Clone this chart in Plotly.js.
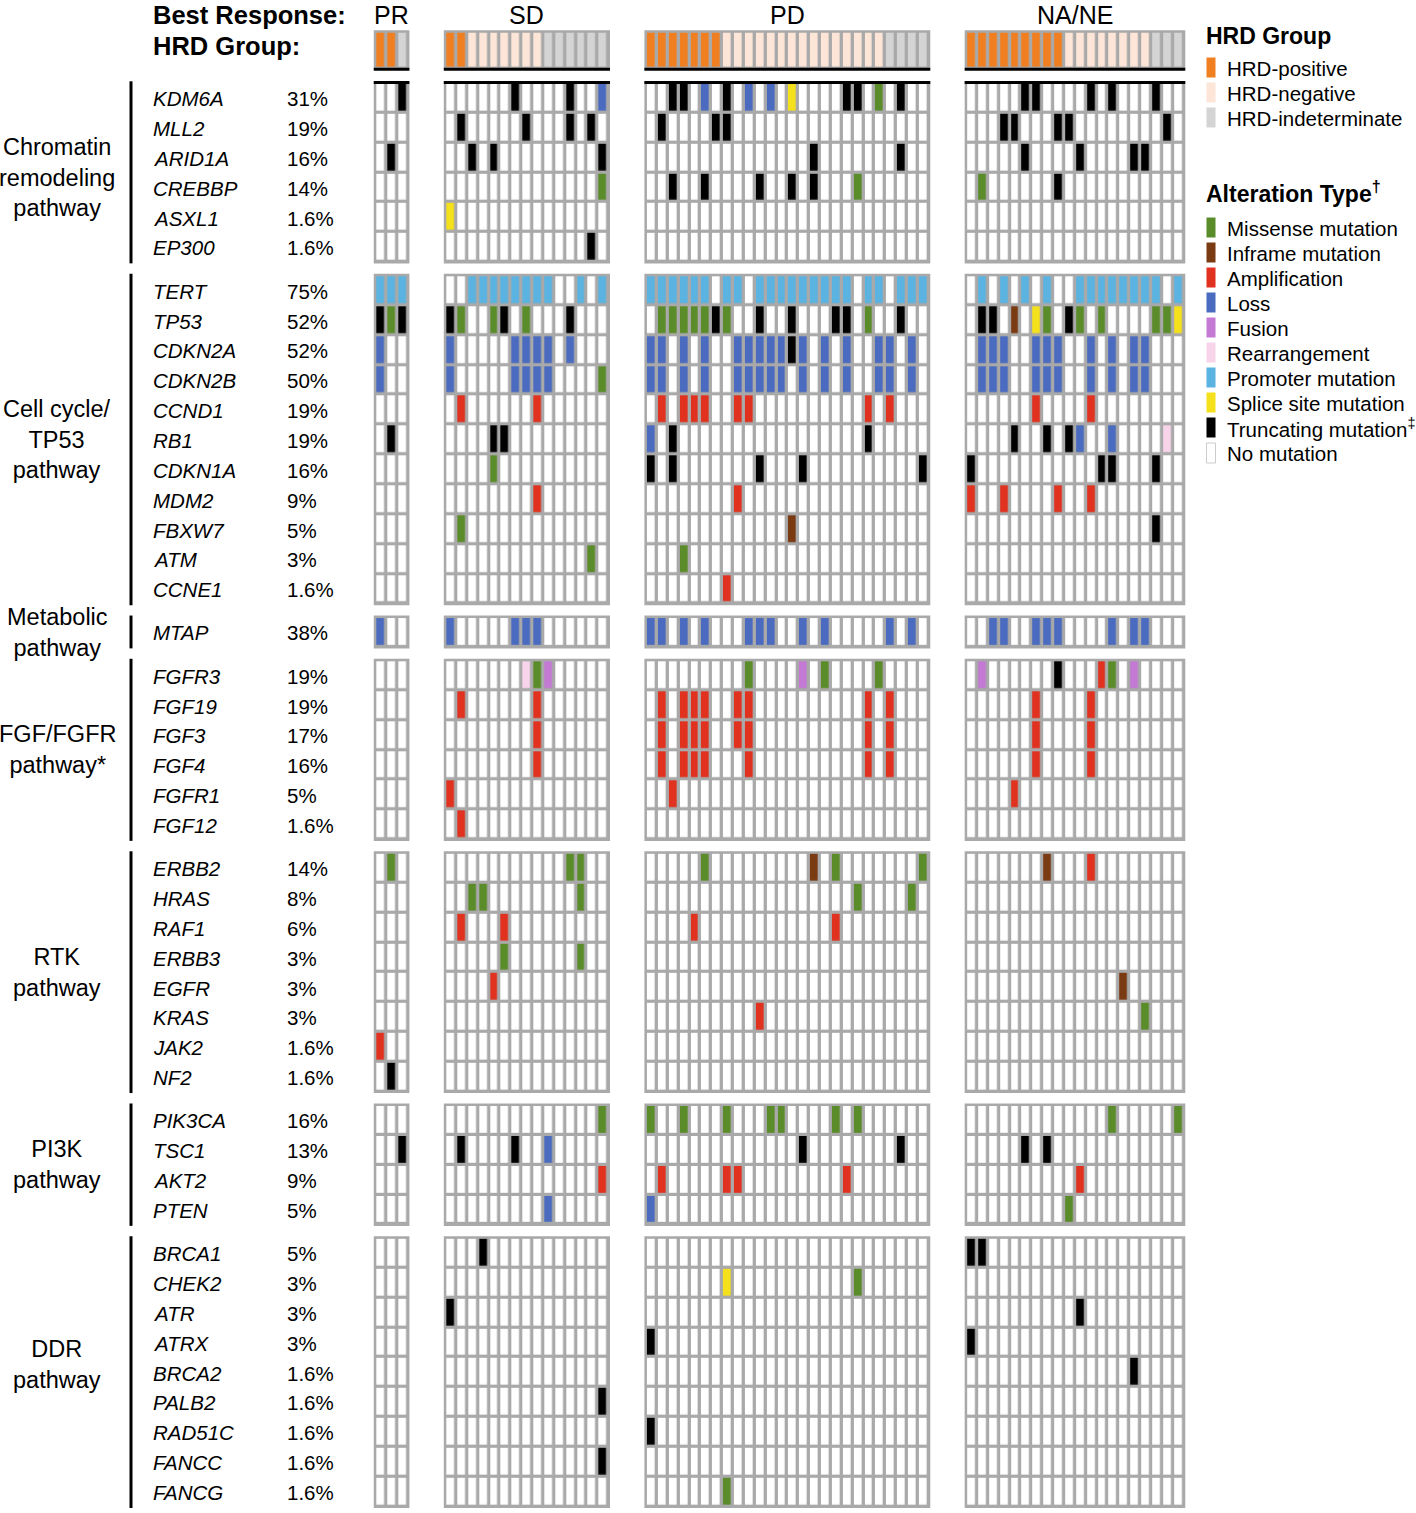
<!DOCTYPE html>
<html><head><meta charset="utf-8">
<script src="https://cdn.plot.ly/plotly-3.0.1.min.js"></script>
<style>html,body{margin:0;padding:0;background:#fff}#chart{width:1416px;height:1513px}</style>
</head><body><div id="chart"></div>
<script>
// ---------------- DATA ----------------
const responseGroups = ['PR', 'SD', 'PD', 'NA/NE'];
const groupSizes = [3, 15, 26, 20];
// HRD group per patient: + positive, - negative, ? indeterminate
const hrdGroups = ['++?', '++-------??????', '+++++++---------------????', '+++++++++--------???'];

const pathwayLabels = ['Chromatin<br>remodeling<br>pathway', 'Cell cycle/<br>TP53<br>pathway', 'Metabolic<br>pathway',
  'FGF/FGFR<br>pathway*', 'RTK<br>pathway', 'PI3K<br>pathway', 'DDR<br>pathway'];

// alteration codes: M missense, I inframe, A amplification, L loss, F fusion, R rearrangement,
// P promoter, S splice site, T truncating ; tokens "colX" per response group [PR, SD, PD, NA/NE]
const chromatinGenes = ['KDM6A', 'MLL2', 'ARID1A', 'CREBBP', 'ASXL1', 'EP300'];
const chromatinPct = ['31%', '19%', '16%', '14%', '1.6%', '1.6%'];
const chromatinAlt = [
  ['3T', '7T 12T 15L', '3T 4T 6L 8T 10L 12L 14S 19T 20T 22M 24T', '6T 7T 12T 14T 18T'],
  ['', '2T 8T 12T 14T', '2T 7T 8T', '4T 5T 9T 10T 19T'],
  ['2T', '3T 5T 15T', '16T 24T', '6T 11T 16T 17T'],
  ['', '15M', '3T 6T 11T 14T 16T 20M', '2M 9T'],
  ['', '1S', '', ''],
  ['', '14T', '', '']
];

const cellCycleGenes = ['TERT', 'TP53', 'CDKN2A', 'CDKN2B', 'CCND1', 'RB1', 'CDKN1A', 'MDM2', 'FBXW7', 'ATM', 'CCNE1'];
const cellCyclePct = ['75%', '52%', '52%', '50%', '19%', '19%', '16%', '9%', '5%', '3%', '1.6%'];
const cellCycleAlt = [
  ['1P 2P 3P', '3P 4P 5P 6P 7P 8P 9P 10P 13P 15P',
   '1P 2P 3P 4P 5P 6P 8P 9P 11P 12P 13P 14P 15P 16P 17P 18P 19P 21P 22P 24P 25P 26P',
   '2P 4P 6P 8P 11P 12P 13P 14P 15P 16P 17P 18P 20P'],
  ['1T 2M 3T', '1T 2M 5M 6T 8M 12T', '2M 3M 4M 5M 6M 7T 8M 11T 14T 18T 19T 21M 24T',
   '2T 3T 5I 7S 8M 10T 11M 13M 18M 19M 20S'],
  ['1L', '1L 7L 8L 9L 10L 12L', '1L 2L 4L 6L 9L 10L 11L 12L 13L 14T 15L 17L 19L 22L 23L 25L',
   '2L 3L 4L 7L 8L 9L 12L 14L 16L 17L'],
  ['1L', '1L 7L 8L 9L 10L 15M', '1L 2L 4L 6L 9L 10L 11L 12L 13L 15L 17L 19L 22L 23L 25L',
   '2L 3L 4L 7L 8L 9L 12L 14L 16L 17L'],
  ['', '2A 9A', '2A 4A 5A 6A 9A 10A 21A 23A', '7A 12A'],
  ['2T', '5T 6T', '1L 3T 21T', '5T 8T 10T 11L 14L 19R'],
  ['', '5M', '1T 3T 11T 15T 26T', '1T 13T 14T 18T'],
  ['', '9A', '9A', '1A 4A 9A 12A'],
  ['', '2M', '14I', '18T'],
  ['', '14M', '4M', ''],
  ['', '', '8A', '']
];

const metabolicGenes = ['MTAP'];
const metabolicPct = ['38%'];
const metabolicAlt = [
  ['1L', '1L 7L 8L 9L', '1L 2L 4L 6L 10L 11L 12L 15L 17L 23L 25L', '3L 4L 7L 8L 9L 14L 16L 17L']
];

const fgfGenes = ['FGFR3', 'FGF19', 'FGF3', 'FGF4', 'FGFR1', 'FGF12'];
const fgfPct = ['19%', '19%', '17%', '16%', '5%', '1.6%'];
const fgfAlt = [
  ['', '8R 9M 10F', '10M 15F 17M 22M', '2F 9T 13A 14M 16F'],
  ['', '2A 9A', '2A 4A 5A 6A 9A 10A 21A 23A', '7A 12A'],
  ['', '9A', '2A 4A 5A 6A 9A 10A 21A 23A', '7A 12A'],
  ['', '9A', '2A 4A 5A 6A 10A 21A 23A', '7A 12A'],
  ['', '1A', '3A', '5A'],
  ['', '2A', '', '']
];

const rtkGenes = ['ERBB2', 'HRAS', 'RAF1', 'ERBB3', 'EGFR', 'KRAS', 'JAK2', 'NF2'];
const rtkPct = ['14%', '8%', '6%', '3%', '3%', '3%', '1.6%', '1.6%'];
const rtkAlt = [
  ['2M', '12M 13M', '6M 16I 18M 26M', '8I 12A'],
  ['', '3M 4M 13M', '20M 25M', ''],
  ['', '2A 6A', '5A 18A', ''],
  ['', '6M 13M', '', ''],
  ['', '5A', '', '15I'],
  ['', '', '11A', '17M'],
  ['1A', '', '', ''],
  ['2T', '', '', '']
];

const pi3kGenes = ['PIK3CA', 'TSC1', 'AKT2', 'PTEN'];
const pi3kPct = ['16%', '13%', '9%', '5%'];
const pi3kAlt = [
  ['', '15M', '1M 4M 8M 12M 13M 18M 20M', '14M 20M'],
  ['3T', '2T 7T 10L', '15T 24T', '6T 8T'],
  ['', '15A', '2A 8A 9A 19A', '11A'],
  ['', '10L', '1L', '10M']
];

const ddrGenes = ['BRCA1', 'CHEK2', 'ATR', 'ATRX', 'BRCA2', 'PALB2', 'RAD51C', 'FANCC', 'FANCG'];
const ddrPct = ['5%', '3%', '3%', '3%', '1.6%', '1.6%', '1.6%', '1.6%', '1.6%'];
const ddrAlt = [
  ['', '4T', '', '1T 2T'],
  ['', '', '8S 20M', ''],
  ['', '1T', '', '11T'],
  ['', '', '1T', '1T'],
  ['', '', '', '16T'],
  ['', '15T', '', ''],
  ['', '', '1T', ''],
  ['', '15T', '', ''],
  ['', '', '8M', '']
];

const hrdLegendLabels = ['HRD-positive', 'HRD-negative', 'HRD-indeterminate'];
const hrdLegendCodes = ['+', '-', '?'];
const altLegendLabels = ['Missense mutation', 'Inframe mutation', 'Amplification', 'Loss', 'Fusion',
  'Rearrangement', 'Promoter mutation', 'Splice site mutation', 'Truncating mutation<sup>\u2021</sup>', 'No mutation'];
const altLegendCodes = ['M', 'I', 'A', 'L', 'F', 'R', 'P', 'S', 'T', '.'];

// ---------------- STYLE ----------------
const codeIndex = {'.':0,'M':1,'I':2,'A':3,'L':4,'F':5,'R':6,'P':7,'S':8,'T':9,'+':10,'-':11,'?':12};
const codeColors = ['#ffffff', '#5b8c2a', '#7a3a12', '#e1311f', '#4a6bbf', '#c47ad4', '#f8d4ea',
  '#5ab3e0', '#f5e11b', '#000000', '#f07f21', '#fde6d8', '#d4d4d4'];
const GRID = '#a9a9a9';
const FONT = 'Liberation Sans, Arial, Helvetica, sans-serif';

const COL_PITCH = 10.88, GROUP_GAP = 37.4, X0 = 380.7;
const ROW_PITCH = 29.85, BLOCK_GAP = 13.4, Y0 = 97.7;
const HEAD_Y = 50, HEAD_H = 36.6;
const GAP_X = 3.3, GAP_Y = 3.2;

const blocks = [
  {genes: chromatinGenes, pct: chromatinPct, alt: chromatinAlt},
  {genes: cellCycleGenes, pct: cellCyclePct, alt: cellCycleAlt},
  {genes: metabolicGenes, pct: metabolicPct, alt: metabolicAlt},
  {genes: fgfGenes, pct: fgfPct, alt: fgfAlt},
  {genes: rtkGenes, pct: rtkPct, alt: rtkAlt},
  {genes: pi3kGenes, pct: pi3kPct, alt: pi3kAlt},
  {genes: ddrGenes, pct: ddrPct, alt: ddrAlt}
];
const labelDy = [5, 0, 1, 0, 0, 0, -8];

// discrete colorscale
const NC = codeColors.length;
const colorscale = [];
codeColors.forEach((c, k) => { colorscale.push([k / NC, c]); colorscale.push([(k + 1) / NC, c]); });

function parseAlt(spec, n) {
  const row = new Array(n).fill(0);
  spec.split(/\s+/).filter(s => s).forEach(tok => {
    const m = tok.match(/^(\d+)([A-Z])$/);
    row[parseInt(m[1], 10) - 1] = codeIndex[m[2]];
  });
  return row;
}

const groupOffset = [];
groupSizes.reduce((acc, n, g) => { groupOffset[g] = acc; return acc + n; }, 0);
function colEdges(g) {
  const c0 = X0 + groupOffset[g] * COL_PITCH + g * GROUP_GAP - COL_PITCH / 2;
  return Array.from({length: groupSizes[g] + 1}, (_, j) => c0 + j * COL_PITCH);
}

const traces = [];
const shapes = [];
const annotations = [];

function hm(x, y, z, xgap, ygap) {
  return {type: 'heatmap', x: x, y: y, z: z, colorscale: colorscale, zmin: -0.5, zmax: NC - 0.5,
    showscale: false, xgap: xgap, ygap: ygap, hoverinfo: 'skip', zsmooth: false};
}
function rect(x0, x1, y0, y1, fill) {
  shapes.push({type: 'rect', xref: 'x', yref: 'y', x0: x0, x1: x1, y0: y0, y1: y1,
    fillcolor: fill, line: {width: 0}, layer: 'below'});
}
function line(x0, x1, y0, y1, w) {
  shapes.push({type: 'line', xref: 'x', yref: 'y', x0: x0, x1: x1, y0: y0, y1: y1,
    line: {color: '#000', width: w}, layer: 'above'});
}
function text(x, y, t, size, anchor, extra) {
  annotations.push(Object.assign({xref: 'x', yref: 'y', x: x, y: y, text: t, showarrow: false,
    xanchor: anchor || 'left', yanchor: 'middle', font: {family: FONT, size: size, color: '#000'}}, extra || {}));
}

// header: HRD groups
groupSizes.forEach((n, g) => {
  const xe = colEdges(g);
  const ye = [HEAD_Y - HEAD_H / 2, HEAD_Y + HEAD_H / 2];
  rect(xe[0] - 1.5, xe[n] + 1.5, ye[0] - 1.5, ye[1] + 1.5, GRID);
  traces.push(hm(xe, ye, [hrdGroups[g].split('').map(c => codeIndex[c])], GAP_X, GAP_Y));
  line(xe[0] - 1.5, xe[n] + 1.5, ye[1] + 1, ye[1] + 1, 3);
  text((xe[0] + xe[n]) / 2, 14.5, responseGroups[g], 25, 'center');
});
text(151, 14.5, '<b>Best Response:</b>', 25.5, 'left');
text(151, 46, '<b>HRD Group:</b>', 25.5, 'left');

// gene blocks
let rowCounter = 0;
blocks.forEach((b, bi) => {
  const nR = b.genes.length;
  const yTop = Y0 + rowCounter * ROW_PITCH + bi * BLOCK_GAP - ROW_PITCH / 2;
  const ye = Array.from({length: nR + 1}, (_, k) => yTop + k * ROW_PITCH);
  groupSizes.forEach((n, g) => {
    const xe = colEdges(g);
    const z = b.alt.map(a => parseAlt(a[g], n));
    rect(xe[0] - 1.5, xe[n] + 1.5, ye[0] - 1.5, ye[nR] + 1.5, GRID);
    traces.push(hm(xe, ye, z, GAP_X, GAP_Y));
    if (bi === 0) line(xe[0] - 1.5, xe[n] + 1.5, ye[0] - 0.3, ye[0] - 0.3, 3);
  });
  // bracket line
  line(131, 131, ye[0] - 1.5, ye[nR] + 1.5, 3);
  // gene and percent labels
  b.genes.forEach((gname, k) => {
    const yc = (ye[k] + ye[k + 1]) / 2;
    text(151, yc + 1, '<i>' + gname + '</i>', 20.5, 'left');
    text(285, yc + 1, b.pct[k], 20.5, 'left');
  });
  // pathway label
  text(57, (ye[0] + ye[nR]) / 2 + labelDy[bi], pathwayLabels[bi], 23.5, 'center', {align: 'center'});
  rowCounter += nR;
});

// legends
const LEG_X0 = 1206.5, LEG_X1 = 1215.5, LEG_PITCH = 25;
function legend(title, titleY, firstY, labels, codes) {
  text(1204, titleY, title, 23, 'left');
  const ye = Array.from({length: labels.length + 1}, (_, k) => firstY - LEG_PITCH / 2 + k * LEG_PITCH);
  traces.push(hm([LEG_X0, LEG_X1], ye, codes.map(c => [codeIndex[c]]), 0, 5));
  labels.forEach((l, k) => {
    text(1225, firstY + k * LEG_PITCH, l, 20.5, 'left');
    if (codes[k] === '.') {
      shapes.push({type: 'rect', xref: 'x', yref: 'y', x0: LEG_X0, x1: LEG_X1,
        y0: ye[k] + 2.5, y1: ye[k + 1] - 2.5, line: {color: '#cccccc', width: 1}, fillcolor: 'rgba(0,0,0,0)'});
    }
  });
}
legend('<b>HRD Group</b>', 36, 68, hrdLegendLabels, hrdLegendCodes);
legend('<b>Alteration Type<sup>\u2020</sup></b>', 192, 228, altLegendLabels, altLegendCodes);

const layout = {
  width: 1416, height: 1513,
  margin: {l: 0, r: 0, t: 0, b: 0, pad: 0},
  paper_bgcolor: '#ffffff', plot_bgcolor: '#ffffff',
  xaxis: {range: [0, 1416], visible: false, fixedrange: true},
  yaxis: {range: [1513, 0], visible: false, fixedrange: true},
  shapes: shapes, annotations: annotations, showlegend: false,
  font: {family: FONT}
};
Plotly.newPlot('chart', traces, layout, {staticPlot: true, displayModeBar: false});
</script>
</body></html>
